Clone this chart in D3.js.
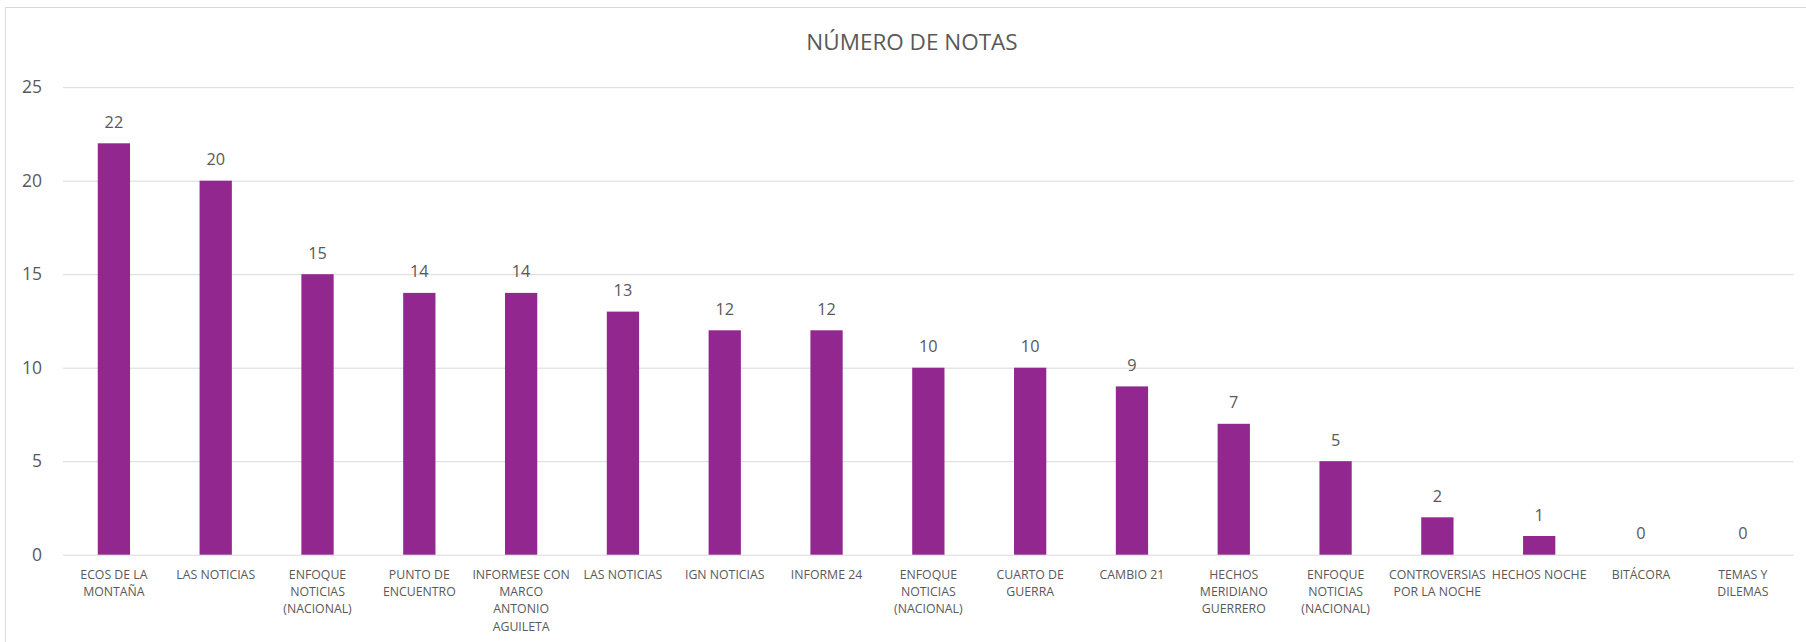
<!DOCTYPE html>
<html>
<head>
<meta charset="utf-8">
<script src="https://cdn.jsdelivr.net/npm/d3@7"></script>
<style>
  body { margin: 0; background: #fff; }
  svg { display: block; font-family: "Open Sans", sans-serif; }
</style>
</head>
<body>
<div class="canvas"></div>
<script>
// data
const categories = [
  'ECOS DE LA\nMONTAÑA', 'LAS NOTICIAS', 'ENFOQUE\nNOTICIAS\n(NACIONAL)', 'PUNTO DE\nENCUENTRO',
  'INFORMESE CON\nMARCO\nANTONIO\nAGUILETA', 'LAS NOTICIAS', 'IGN NOTICIAS', 'INFORME 24',
  'ENFOQUE\nNOTICIAS\n(NACIONAL)', 'CUARTO DE\nGUERRA', 'CAMBIO 21', 'HECHOS\nMERIDIANO\nGUERRERO',
  'ENFOQUE\nNOTICIAS\n(NACIONAL)', 'CONTROVERSIAS\nPOR LA NOCHE', 'HECHOS NOCHE', 'BITÁCORA', 'TEMAS Y\nDILEMAS'
]
const notas = [22, 20, 15, 14, 14, 13, 12, 12, 10, 10, 9, 7, 5, 2, 1, 0, 0]
const yTicks = [0, 5, 10, 15, 20, 25]
const chartTitle = 'NÚMERO DE NOTAS'

const width = 1806
const height = 642
const margin = {top: 87.2, right: 12.3, bottom: 87.3, left: 63}
const textColour = '#595959'
const barColour = '#92278F'

const svg = d3.select('.canvas')
  .append('svg')
  .attr('width', width)
  .attr('height', height)

// chart area border
svg.append('rect')
  .attr('x', 5.5)
  .attr('y', 7.5)
  .attr('width', width + 10)
  .attr('height', height + 10)
  .attr('fill', '#fff')
  .attr('stroke', '#d9d9d9')

svg.append('text')
  .attr('x', 912)
  .attr('y', 50)
  .attr('text-anchor', 'middle')
  .attr('fill', textColour)
  .style('font-size', '22.5px')
  .text(chartTitle)

const x = d3.scaleBand()
  .domain(d3.range(categories.length))
  .range([margin.left, width - margin.right])
  .paddingInner(0.683)
  .paddingOuter(0.3415)

const y = d3.scaleLinear()
  .domain([0, 25])
  .range([height - margin.bottom, margin.top])

// gridlines + tick labels
const yAxis = svg.append('g')
  .attr('transform', `translate(${margin.left}, 0)`)
  .call(d3.axisLeft(y).tickValues(yTicks).tickSize(-(width - margin.left - margin.right)).tickPadding(21))
yAxis.select('.domain').remove()
yAxis.selectAll('.tick line').attr('stroke', '#d9d9d9')
yAxis.selectAll('.tick text')
  .attr('fill', textColour)
  .style('font-size', '17.5px')
  .style('font-family', '"Open Sans", sans-serif')

svg.selectAll('rect.bar')
  .data(notas)
  .enter()
  .append('rect')
  .attr('class', 'bar')
  .attr('x', (d, i) => x(i))
  .attr('y', d => y(d))
  .attr('width', x.bandwidth())
  .attr('height', d => y(0) - y(d))
  .attr('fill', barColour)

svg.selectAll('text.value')
  .data(notas)
  .enter()
  .append('text')
  .attr('class', 'value')
  .attr('x', (d, i) => x(i) + x.bandwidth() / 2)
  .attr('y', d => y(d) - 15.5)
  .attr('text-anchor', 'middle')
  .attr('fill', textColour)
  .style('font-size', '16.3px')
  .text(d => d)

// category labels, already split into lines
const xAxis = svg.append('g')
  .attr('transform', `translate(0, ${y(0)})`)
  .call(d3.axisBottom(x).tickSize(0).tickFormat(''))
xAxis.select('.domain').remove()

xAxis.selectAll('.tick')
  .append('text')
  .attr('text-anchor', 'middle')
  .attr('fill', textColour)
  .style('font-size', '12.3px')
  .style('font-family', '"Open Sans", sans-serif')
  .selectAll('tspan')
  .data(i => categories[i].split('\n'))
  .enter()
  .append('tspan')
  .attr('x', 0)
  .attr('y', (d, i) => 24 + i * 17.3)
  .text(d => d)
</script>
</body>
</html>
